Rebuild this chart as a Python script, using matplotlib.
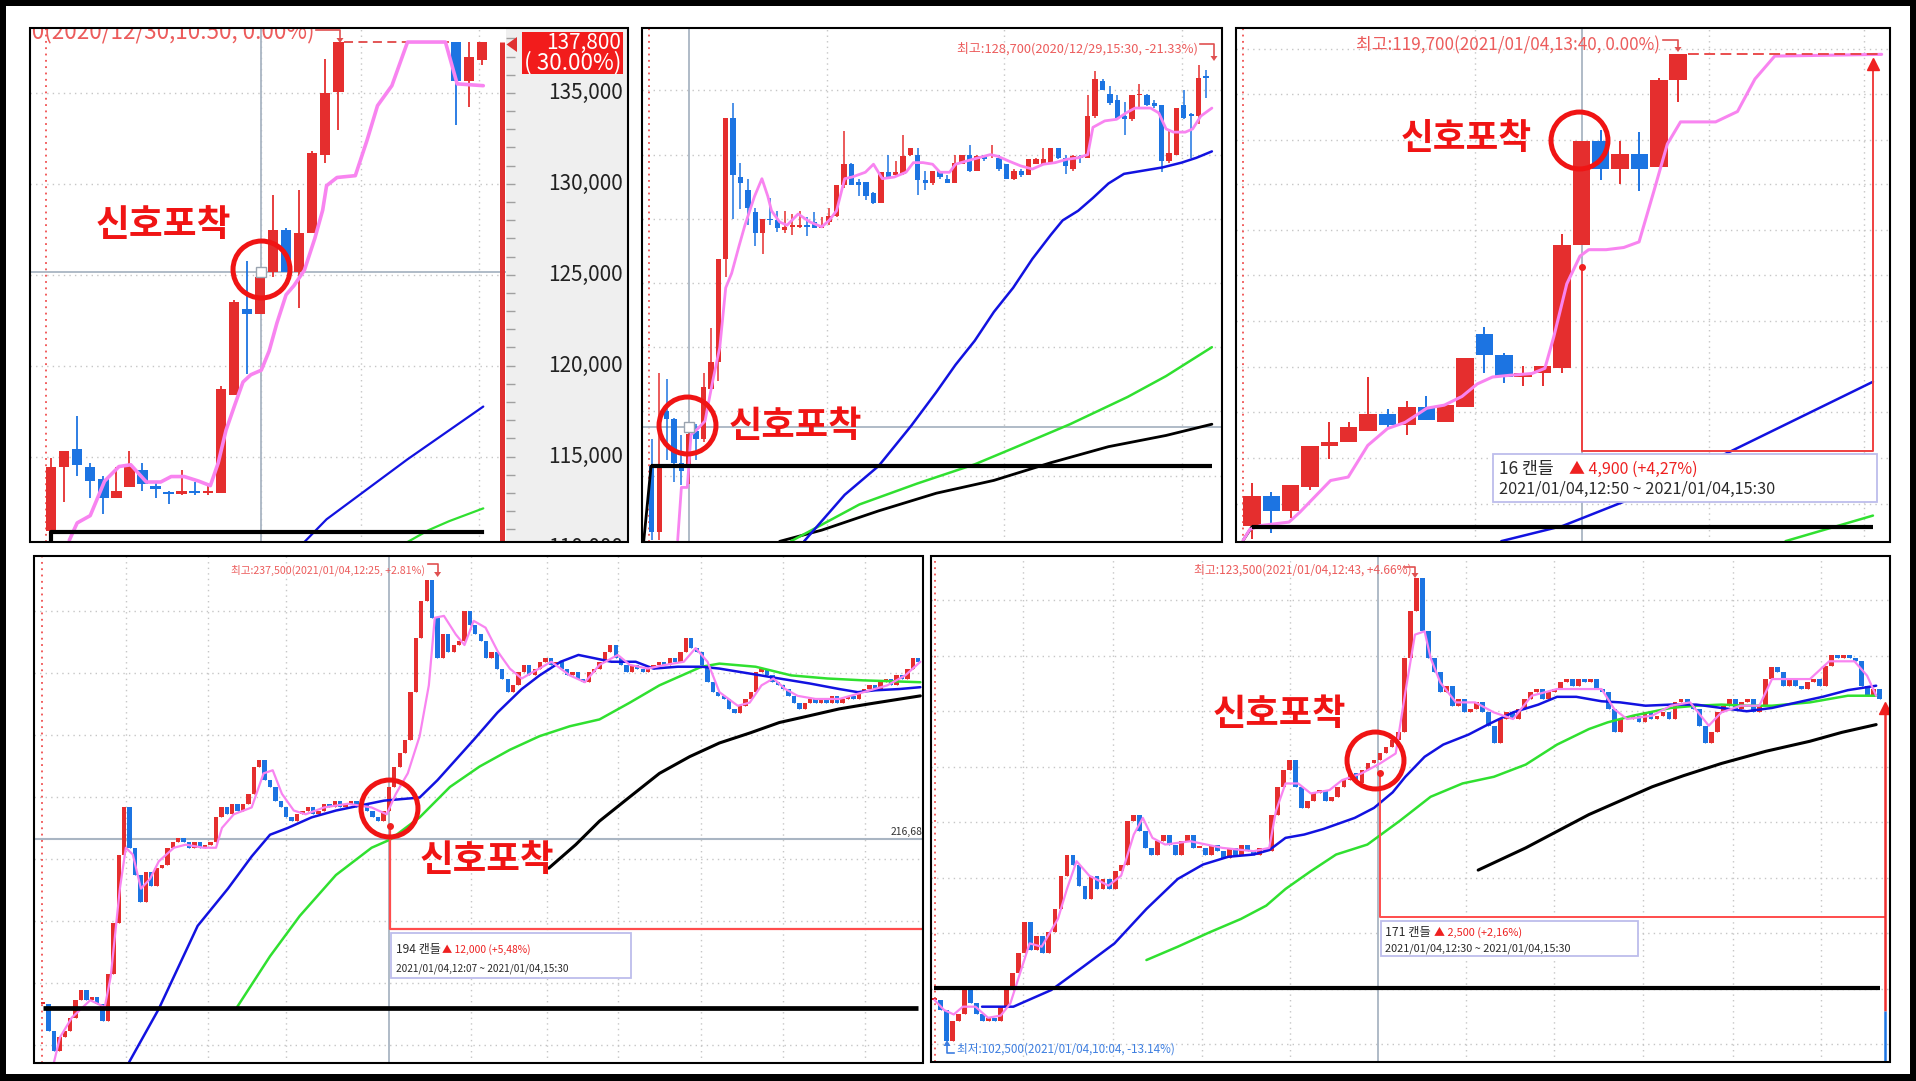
#!/usr/bin/env python3
import matplotlib
matplotlib.use("Agg")
import matplotlib.pyplot as plt
from matplotlib.lines import Line2D
from matplotlib.patches import Rectangle, Polygon

# ---------------- panel 1 (daily, price axis on the right) ----------------
p1_x = list(range(23)) + [31, 32, 33]
p1_open = [110900, 114450, 115400, 114450, 113750, 112700, 113300, 114250, 113400, 113050,
           112950, 113100, 113000, 113000, 118400, 123100, 122850, 125150, 127450, 125150,
           127300, 131600, 135050, 137800, 135650, 136800]
p1_high = [114900, 115300, 117250, 114650, 113950, 114450, 115300, 114650, 113600, 113100,
           114250, 113600, 113400, 118900, 123600, 125750, 125150, 129400, 127550, 129650,
           131800, 136850, 137800, 137800, 137800, 137800]
p1_low = [110000, 112500, 113950, 112700, 111850, 112700, 113300, 113100, 112700, 112400,
          112900, 112900, 112900, 113000, 118400, 119550, 122850, 124850, 125150, 123150,
          127300, 131150, 132950, 133250, 134250, 136550]
p1_close = [114400, 115300, 114550, 113650, 112700, 113100, 114450, 113500, 113200, 112950,
            113100, 113000, 113100, 118700, 123500, 122850, 124900, 127450, 125150, 127300,
            131700, 135000, 137800, 135650, 136950, 137800]
p1_pink_x = [1.4, 2.0, 3.0, 4.1, 5.2, 6.1, 7.3, 8.4, 9.2, 10.2, 11.3, 12.2, 12.8, 13.4, 14.1,
             14.7, 15.3, 16.1, 16.7, 17.3, 18.0, 18.6, 19.4, 20.2, 20.8, 21.1, 21.9, 23.3, 24.2,
             25.0, 26.1, 27.3, 30.2, 31.1, 33.1]
p1_pink_y = [110400, 111350, 111750, 113650, 114450, 114550, 113600, 113600, 113900, 113900,
             113650, 113400, 114650, 116450, 117900, 119100, 119500, 119750, 120800, 122350,
             123900, 124400, 125250, 127000, 128550, 129900, 130350, 130450, 132400, 134300,
             135400, 137800, 137800, 135500, 135400]
p1_blue_x = [19.4, 21.1, 24.2, 27.3, 30.5, 33.1]
p1_blue_y = [110300, 111550, 113200, 114850, 116450, 117750]
p1_green_x = [27.3, 28.9, 30.5, 33.1]
p1_green_y = [110300, 110950, 111450, 112150]
p1_base_x = [0, 0, 33]
p1_base_y = [110300, 110870, 110870]
p1_ticks = [110000, 115000, 120000, 125000, 130000, 135000]
p1_last = 137800
p1_last_pct = "( 30.00%)"
p1_title = "최고:137,800(2020/12/30,10:50, 0.00%)"

# ---------------- panel 2 ----------------
p2_open = [116300, 114250, 118000, 117750, 116400, 116250, 117400, 117150, 118700, 119550,
           122750, 127150, 125300, 124900, 124200, 123550, 124000, 123950, 123650, 123750,
           123750, 123800, 123900, 123700, 123900, 124100, 125050, 125700, 125150, 125150,
           124800, 124500, 125450, 125350, 125400, 126000, 126000, 125200, 125100, 125500,
           125250, 125100, 125700, 126000, 125500, 126000, 125950, 125900, 125700, 125250,
           125500, 125350, 125700, 125700, 125700, 126200, 125900, 125550, 125950, 125900,
           127200, 128300, 127900, 127700, 127200, 127100, 127850, 127850, 127600, 127550,
           125800, 126000, 127550, 127250, 127200, 128450]
p2_high = [117150, 119200, 119000, 117800, 117250, 117650, 117600, 119200, 120600, 122750,
           127150, 127600, 125750, 125250, 124350, 124000, 124650, 124250, 124250, 124150,
           124250, 124050, 124200, 124050, 124350, 125050, 126750, 125750, 125250, 125150,
           124850, 125450, 126000, 125800, 126600, 126200, 126200, 125500, 125500, 125500,
           125350, 126000, 126000, 126300, 126000, 126000, 126300, 126000, 125700, 125550,
           125550, 125850, 125900, 126200, 126200, 126200, 126000, 126000, 126000, 127850,
           128600, 128350, 128150, 127850, 127650, 127850, 128200, 127900, 127700, 127550,
           126800, 127450, 128000, 127300, 128800, 128650]
p2_low = [114000, 114000, 116500, 115800, 115700, 115750, 116500, 117050, 118700, 118950,
          122200, 124000, 124300, 123800, 123150, 122900, 123800, 123600, 123550, 123500,
          123700, 123450, 123700, 123700, 123800, 124050, 124950, 125050, 124700, 124600,
          124450, 124500, 125250, 125300, 125350, 125950, 124750, 124900, 125050, 125250,
          125100, 125100, 125700, 125450, 125500, 125800, 125900, 125500, 125250, 125200,
          125300, 125350, 125700, 125700, 125700, 125850, 125400, 125500, 125750, 125900,
          127150, 128000, 127550, 127100, 126600, 127050, 127450, 127500, 127450, 125450,
          125750, 126000, 127100, 125900, 126950, 127750]
p2_close = [114250, 116300, 117750, 116400, 116150, 117300, 117150, 118750, 119550, 122750,
            127150, 125350, 125100, 124350, 123550, 124000, 123950, 123700, 123750, 123800,
            123800, 123750, 123700, 123800, 124100, 125050, 125700, 125050, 125050, 124700,
            124500, 125450, 125300, 125450, 125950, 126200, 125200, 125100, 125500, 125300,
            125100, 125750, 126000, 125500, 125950, 125850, 126000, 125550, 125250, 125500,
            125350, 125850, 125850, 125850, 126200, 125900, 125650, 125950, 125900, 127200,
            128350, 128000, 127600, 127150, 127100, 127850, 127850, 127550, 127500, 125800,
            126050, 127450, 127150, 127200, 128400, 128400]
p2_pink_x = [3.5, 4.0, 4.8, 5.3, 6.1, 7.2, 8.2, 9.2, 10.0, 10.8, 11.8, 12.6, 13.9, 14.9, 15.7,
             16.2, 17.3, 18.3, 19.8, 21.4, 23.0, 24.0, 25.0, 26.1, 27.1, 28.9, 30.0, 31.2, 32.8,
             34.4, 35.4, 36.7, 38.0, 39.0, 40.3, 41.1, 42.6, 44.2, 45.8, 46.8, 48.3, 49.9, 51.5,
             53.0, 54.6, 56.1, 57.7, 59.0, 59.7, 61.3, 62.9, 64.2, 65.4, 67.5, 68.6, 69.6, 70.6,
             72.2, 73.2, 74.3, 75.8]
p2_pink_y = [113990, 115630, 115630, 117270, 117430, 117700, 118900, 120000, 121850, 122300,
             123150, 123800, 124700, 125250, 124700, 124250, 123900, 123800, 124150, 123900,
             123750, 123950, 124250, 125250, 125300, 125450, 125700, 125250, 125300, 125450,
             125750, 125750, 125700, 125450, 125450, 125700, 125800, 125900, 126000, 125950,
             125800, 125650, 125550, 125700, 125750, 125850, 125900, 126000, 126850, 127050,
             127100, 127300, 127450, 127450, 127300, 126800, 126700, 126700, 126800, 127200,
             127450]
p2_blue_x = [20.6, 26.1, 30.7, 35.1, 38.5, 41.1, 43.7, 46.3, 48.9, 51.5, 54.0, 55.6, 57.7,
             59.7, 61.8, 63.9, 66.5, 69.1, 71.7, 73.7, 75.8]
p2_blue_y = [113950, 115400, 116300, 117550, 118600, 119450, 120200, 121100, 121850, 122750,
             123500, 123950, 124250, 124650, 125100, 125400, 125500, 125600, 125750, 125900,
             126100]
p2_green_x = [18.8, 28.1, 35.9, 43.7, 48.9, 56.6, 64.4, 69.6, 75.8]
p2_green_y = [113950, 115100, 115750, 116350, 116850, 117600, 118450, 119100, 120000]
p2_black_x = [17.3, 23.0, 30.7, 38.5, 46.3, 54.0, 61.8, 69.6, 75.8]
p2_black_y = [113950, 114300, 114900, 115450, 115850, 116400, 116900, 117250, 117600]
p2_lead_x = [-1.1, -0.1]
p2_lead_y = [113950, 116300]
p2_base = 116300
p2_title = "최고:128,700(2020/12/29,15:30, -21.33%)"

# ---------------- panel 3 (10 minute candles) ----------------
p3_open = [108800, 109500, 109150, 109700, 110650, 110750, 111000, 111400, 111150, 111550,
           111200, 111550, 113250, 112750, 112250, 112350, 112450, 115300, 117700, 117050,
           117400, 117100, 119100]
p3_high = [109800, 109600, 109750, 110650, 111200, 111200, 112250, 111500, 111700, 111800,
           111600, 112700, 113400, 112800, 112500, 112500, 115550, 117700, 117950, 117700,
           117900, 119150, 119700]
p3_low = [108500, 108650, 109000, 109650, 110350, 110750, 111000, 111100, 110900, 111250,
          111200, 111550, 112350, 112100, 112050, 112050, 112350, 115300, 116800, 116700,
          116550, 117100, 118600]
p3_close = [109500, 109150, 109750, 110650, 110750, 111100, 111400, 111150, 111550, 111250,
            111600, 112700, 112750, 112250, 112350, 112500, 115300, 117700, 117050, 117400,
            117050, 119100, 119700]
p3_pink_x = [-0.45, -0.11, 0.45, 1.92, 2.48, 4.06, 4.97, 5.98, 7.0, 7.9, 9.03, 9.93, 10.84,
             11.63, 12.42, 13.32, 14.45, 15.12, 15.58, 16.25, 16.93, 17.38, 18.28, 19.19, 19.98,
             20.77, 21.44, 22.12, 23.93, 25.06, 25.96, 26.98, 32.5]
p3_pink_y = [108480, 108730, 108820, 108900, 109130, 109860, 109940, 110670, 111060, 111200,
             111530, 111600, 111800, 112090, 112250, 112290, 112330, 112450, 113180, 114400,
             115040, 115190, 115190, 115240, 115370, 116580, 117630, 118140, 118140, 118380,
             119130, 119660, 119700]
p3_blue_x = [12.87, 16.03, 19.19, 24.6, 32.05]
p3_blue_y = [108460, 108810, 109370, 110510, 112140]
p3_green_x = [27.54, 32.05]
p3_green_y = [108460, 109050]
p3_lead_x = [-0.45, 0.0]
p3_lead_y = [108480, 108790]
p3_base = 108790
p3_grid = [119820, 118785, 117730, 116700, 115650, 114600, 113545, 112490, 111440, 110385, 109315]
p3_title = "최고:119,700(2021/01/04,13:40, 0.00%)"
p3_count, p3_gain, p3_range = "16 캔들", "▲ 4,900 (+4,27%)", "2021/01/04,12:50 ~ 2021/01/04,15:30"

# ---------------- panel 4 (1 minute, closes) ----------------
p4_close = [203300, 201100, 199500, 200600, 201100, 202200, 203600, 204400, 203600, 203850,
            203300, 201950, 205750, 209850, 215350, 219150, 215900, 213700, 211500, 213950,
            212850, 214250, 214500, 215900, 216400, 216700, 216400, 215900, 216400, 215900,
            216150, 216400, 218350, 219150, 218600, 219450, 218900, 219450, 220250, 222450,
            223000, 221350, 220800, 219700, 219150, 218350, 218050, 218600, 218900, 219150,
            218600, 218900, 219450, 219150, 219700, 219150, 219450, 219700, 219150, 219450,
            218900, 218350, 218050, 218900, 220800, 222450, 223550, 224600, 228450, 232800,
            235800, 237500, 234450, 231200, 233100, 231700, 232250, 232550, 235000, 233900,
            233100, 232550, 231200, 231700, 230350, 229550, 228450, 229000, 230100, 230650,
            229800, 230350, 230900, 231200, 230650, 230900, 230350, 229800, 230100, 229550,
            229250, 230100, 230350, 230900, 231700, 232250, 231200, 230650, 230100, 230650,
            230350, 230100, 230350, 230650, 230900, 230650, 231200, 230900, 231700, 232800,
            232000, 231700, 230650, 229250, 228450, 228150, 227900, 227100, 226800, 227350,
            227900, 228450, 230100, 230350, 229800, 229250, 229000, 228700, 228150, 227600,
            227100, 227600, 227900, 227600, 227900, 227600, 228150, 227600, 227900, 228150,
            227900, 228450, 228700, 229000, 228700, 229250, 229550, 229000, 229800, 229550,
            230350, 231200, 230900]
p4_pink_x = [2.0, 3.1, 5.3, 8.7, 11.4, 12.5, 14.2, 15.3, 16.6, 18.1, 19.8, 21.4, 24.2, 26.4,
             29.7, 32.0, 33.1, 35.3, 38.6, 40.8, 42.5, 44.2, 46.4, 48.6, 52.0, 56.4, 60.8, 63.6,
             65.3, 67.5, 69.7, 71.4, 72.5, 74.2, 76.4, 78.0, 79.7, 81.9, 84.2, 86.4, 88.6, 90.8,
             94.1, 97.5, 100.3, 103.0, 106.4, 108.6, 111.9, 115.2, 118.6, 120.8, 123.0, 125.2,
             128.6, 130.8, 133.0, 135.2, 137.4, 139.7, 143.0, 147.4, 151.9, 156.3, 159.6, 162.4]
p4_pink_y = [198600, 200600, 202200, 203600, 203050, 205500, 212600, 215900, 215350, 212600,
             213400, 214800, 215900, 216150, 215900, 215900, 217500, 218600, 219150, 221900,
             222150, 220250, 218900, 218600, 219150, 219450, 219150, 218600, 220250, 221900,
             224900, 229000, 234450, 234600, 233100, 232250, 234200, 233650, 231700, 230350,
             229550, 230100, 230900, 229800, 229250, 230650, 231450, 230650, 230350, 230650,
             230900, 232000, 230900, 228450, 227350, 227600, 229000, 229550, 228700, 228150,
             227900, 227900, 228450, 229000, 229800, 230900]
p4_blue_x = [15.9, 21.4, 28.6, 34.2, 38.6, 42.0, 45.3, 49.7, 54.2, 58.6, 63.1, 69.7, 73.0,
             76.4, 79.7, 84.1, 88.6, 91.9, 95.8, 99.1, 101.9, 105.2, 109.7, 113.0, 117.5, 121.9,
             125.2, 130.8, 136.3, 141.9, 147.4, 150.8, 154.1, 158.5, 162.4]
p4_blue_y = [198600, 202900, 209600, 212600, 215200, 216950, 217500, 218350, 218900, 219300,
             219700, 219950, 221350, 223000, 224600, 226800, 228700, 229800, 230900, 231450,
             231200, 230900, 230900, 230350, 230500, 230500, 230350, 229950, 229550, 229150,
             228700, 228450, 228600, 228700, 228850]
p4_green_x = [35.9, 42.0, 47.5, 54.2, 60.8, 64.2, 69.7, 75.3, 80.8, 86.4, 91.9, 97.5, 103.0,
              108.6, 114.1, 121.9, 125.2, 131.9, 138.5, 145.2, 151.9, 162.4]
p4_green_y = [203050, 207150, 210400, 213700, 215900, 216550, 218350, 220800, 222450, 223800,
              224900, 225700, 226250, 227600, 229000, 230500, 230750, 230500, 229800, 229550,
              229400, 229250]
p4_black_x = [93.6, 98.6, 103.0, 108.6, 114.1, 119.7, 125.2, 130.8, 136.3, 141.9, 147.4, 152.9, 162.4]
p4_black_y = [214250, 216150, 218050, 220000, 221900, 223250, 224350, 225150, 226000, 226550,
              227100, 227500, 228150]
p4_base = 202950
p4_cross_price = "216,680"
p4_title = "최고:237,500(2021/01/04,12:25, +2.81%)"
p4_count, p4_gain, p4_range = "194 캔들", "▲ 12,000 (+5,48%)", "2021/01/04,12:07 ~ 2021/01/04,15:30"

# ---------------- panel 5 (1 minute, closes) ----------------
p5_close = [104500, 104050, 102650, 103550, 103850, 104950, 104350, 103850, 103550, 103700,
            103550, 104200, 104950, 105700, 106600, 108000, 106750, 107400, 106600, 107550,
            108600, 110100, 111050, 110600, 109650, 109050, 110100, 109500, 109950, 109500,
            110300, 110600, 112550, 112850, 112100, 111350, 111050, 111650, 111950, 111500,
            111050, 111650, 111950, 111350, 111350, 111050, 111500, 111200, 110900, 111350,
            111050, 111500, 111200, 111050, 111350, 111200, 112850, 114100, 114850, 115300,
            114100, 113150, 113450, 113800, 113950, 113450, 113650, 114100, 114400, 114700,
            114250, 114850, 115150, 115300, 115600, 115900, 116200, 116550, 119900, 122000,
            123500, 121100, 119900, 119250, 118350, 118650, 117750, 118050, 117450, 117600,
            117900, 117450, 116850, 116050, 117150, 117450, 117150, 117600, 118050, 118350,
            118500, 118050, 118350, 118500, 118800, 118950, 118650, 118950, 118800, 118950,
            118500, 118350, 117600, 116550, 117150, 117150, 117300, 117000, 117450, 117150,
            117300, 117450, 117150, 117900, 118050, 117750, 117600, 116850, 116050, 116550,
            117450, 117750, 118050, 117600, 117900, 118050, 117450, 117750, 118950, 119500,
            119250, 118650, 118950, 118650, 118500, 118800, 118950, 118650, 119550, 120050,
            119900, 120050, 119900, 119750, 118650, 118200, 118500, 118050]
p5_pink_x = [0.0, 1.6, 3.2, 4.7, 6.8, 8.9, 11.0, 12.6, 14.2, 15.8, 17.8, 20.5, 22.0, 23.6,
             25.7, 28.9, 31.0, 33.1, 34.6, 36.2, 38.3, 42.5, 47.8, 53.0, 55.6, 56.7, 58.3, 60.4,
             62.5, 65.6, 67.7, 70.9, 74.0, 76.6, 78.2, 79.8, 81.4, 82.4, 84.0, 86.6, 89.8, 92.9,
             96.1, 99.2, 103.4, 107.6, 110.8, 112.9, 115.0, 119.2, 122.3, 125.5, 128.6, 130.7,
             133.9, 137.0, 139.1, 142.3, 145.4, 148.6, 152.8, 154.9, 156.4]
p5_pink_y = [104500, 104050, 103850, 104200, 104200, 103700, 103800, 104350, 105700, 107050,
             106900, 108150, 109500, 110750, 110100, 109650, 110100, 111950, 112700, 111800,
             111500, 111650, 111350, 111200, 111350, 113000, 114250, 114250, 113800, 113950,
             114400, 114700, 115150, 115600, 118350, 120950, 121100, 119900, 118800, 117900,
             117900, 117450, 117150, 118200, 118500, 118500, 118500, 117600, 117150, 117300,
             117750, 117900, 116850, 117450, 117750, 117750, 118950, 118950, 118950, 119750,
             119750, 119100, 118200]
p5_blue_x = [7.9, 13.1, 19.4, 24.7, 29.9, 35.2, 40.4, 44.6, 48.8, 53.0, 55.6, 58.3, 61.4, 64.6,
             69.8, 73.0, 76.1, 78.2, 81.4, 84.5, 88.7, 91.9, 96.1, 100.3, 103.4, 106.6, 110.8,
             113.9, 118.1, 122.3, 126.5, 130.7, 134.9, 139.1, 143.3, 147.5, 151.7, 156.4]
p5_blue_y = [104200, 104200, 104950, 106000, 107050, 108600, 109950, 110600, 110950, 111050,
             111250, 111800, 111950, 112200, 112700, 113150, 113850, 114550, 115450, 116000,
             116450, 116900, 117450, 117800, 118150, 118150, 117950, 117900, 117750, 117800,
             117800, 117650, 117500, 117650, 117900, 118150, 118450, 118650]
p5_green_x = [35.2, 40.4, 45.7, 50.9, 55.1, 58.3, 62.5, 66.7, 71.9, 77.2, 82.4, 87.7, 92.9,
              98.2, 103.4, 108.7, 111.8, 116.0, 122.3, 126.5, 130.7, 134.9, 139.1, 145.4, 151.7,
              156.4]
p5_green_y = [106300, 106900, 107550, 108150, 108750, 109500, 110300, 111050, 111500, 112550,
              113650, 114250, 114550, 115100, 116000, 116700, 117000, 117300, 117650, 117750,
              117800, 117750, 117750, 117900, 118200, 118200]
p5_black_x = [90.3, 98.2, 108.7, 119.2, 124.4, 130.7, 138.1, 145.4, 150.7, 156.4]
p5_black_y = [110350, 111350, 112850, 114100, 114600, 115150, 115700, 116150, 116550, 116900]
p5_base = 105050
p5_title = "최고:123,500(2021/01/04,12:43, +4.66%)"
p5_low_title = "최저:102,500(2021/01/04,10:04, -13.14%)"
p5_count, p5_gain, p5_range = "171 캔들", "▲ 2,500 (+2,16%)", "2021/01/04,12:30 ~ 2021/01/04,15:30"

SIGNAL = "신호포착"

# ---------------- style ----------------
W, H = 1916, 1081
RED = "#e52e2e"
BLUE = "#1c74e2"
PINK = "#f884f0"
MA_BLUE = "#1212e0"
MA_GREEN = "#30e030"
GRID = "#c6c6c6"
CROSS = "#a9b5c3"
TITLE_RED = "#ec5c5c"
SIG_RED = "#f01414"
BOX_EDGE = "#bdbdec"
DARK = "#2a2a2a"
DOT = (0, (1, 3))

plt.rcParams["font.family"] = ["Noto Sans CJK KR", "Noto Sans CJK JP", "DejaVu Sans"]

fig = plt.figure(figsize=(W / 100, H / 100), dpi=100)
fig.patch.set_facecolor("white")
renderer = fig.canvas.get_renderer()


def fx(x):
    return x / W


def fy(y):
    return 1 - y / H


def rect(x0, y0, x1, y1):
    return [fx(x0), fy(y1), (x1 - x0) / W, (y1 - y0) / H]


def panel(x0, y0, x1, y1, xlim, ylim):
    ax = fig.add_axes(rect(x0, y0, x1, y1))
    ax.set_xlim(*xlim)
    ax.set_ylim(*ylim)
    ax.set_xticks([])
    ax.set_yticks([])
    for s in ax.spines.values():
        s.set_visible(False)
    return ax


def border(x0, y0, x1, y1, lw=1.5, ec="black", fc="none", z=1):
    fig.add_artist(Rectangle((fx(x0), fy(y1)), (x1 - x0) / W, (y1 - y0) / H,
                             transform=fig.transFigure, fc=fc, ec=ec, lw=lw, zorder=z))


def grid(ax, hs, vs, red_x):
    for y in hs:
        ax.axhline(y, color=GRID, lw=1, ls=DOT, zorder=1)
    for x in vs:
        ax.axvline(x, color=GRID, lw=1, ls=DOT, zorder=1)
    ax.axvline(red_x, color="#f05050", lw=1.3, ls=(0, (1, 2.5)), zorder=1)


def candles(ax, xs, o, h, l, c, width, wick=1.0):
    y0, y1 = ax.get_ylim()
    px = (y1 - y0) / (ax.get_position().height * H)
    cols = [RED if cc >= oo else BLUE for oo, cc in zip(o, c)]
    bottoms = [min(oo, cc) for oo, cc in zip(o, c)]
    heights = [max(abs(cc - oo), 1.6 * px) for oo, cc in zip(o, c)]
    ax.vlines(xs, l, h, colors=cols, lw=wick, zorder=3)
    ax.bar(xs, heights, width, bottoms, color=cols, lw=0, zorder=4)


def from_closes(closes):
    o = [closes[0]] + closes[:-1]
    hi = [max(a, b) for a, b in zip(o, closes)]
    lo = [min(a, b) for a, b in zip(o, closes)]
    return o, hi, lo


def size_for(s, width, weight="normal"):
    t = fig.text(0, 0, s, fontsize=10, fontweight=weight)
    w = t.get_window_extent(renderer).width
    t.remove()
    return 10 * width / w


def label(x, y, s, width, color, ha="left", va="baseline", weight="normal", ax=None, fit=None):
    fs = size_for(fit or s, width, weight)
    kw = dict(fontsize=fs, color=color, ha=ha, va=va, fontweight=weight)
    if ax is None:
        return fig.text(fx(x), fy(y), s, zorder=6, **kw)
    return ax.text(fx(x), fy(y), s, transform=fig.transFigure, clip_on=True, zorder=8, **kw)


def fline(xs, ys, color, lw=1.2):
    fig.add_artist(Line2D([fx(x) for x in xs], [fy(y) for y in ys], color=color, lw=lw,
                          transform=fig.transFigure, zorder=5))


def ftri(pts, color):
    fig.add_artist(Polygon([(fx(x), fy(y)) for x, y in pts], closed=True, fc=color, ec="none",
                           transform=fig.transFigure, zorder=5))


def bracket(x0, x1, y0, y1, color):
    fline([x0, x1, x1], [y0, y0, y1 - 4], color)
    ftri([(x1 - 3.5, y1 - 5), (x1 + 3.5, y1 - 5), (x1, y1)], color)


def ma(ax, xs, ys, color, lw):
    ax.plot(xs, ys, color=color, lw=lw, zorder=5, solid_joinstyle="round", solid_capstyle="round")


def ring(ax, x, y):
    ax.plot([x], [y], marker="o", ms=41, mfc="none", mec=SIG_RED, mew=3.6, clip_on=False, zorder=9)


def summary(box, x, y1, y2, count, gain, rng, w_count, x_gain, w_gain, w_rng):
    border(*box, lw=1.3, ec=BOX_EDGE, fc="white", z=2)
    label(x, y1, count, w_count, DARK)
    label(x_gain, y1, gain, w_gain, "#ee2020")
    label(x, y2, rng, w_rng, DARK)


# ---------------- panel 1 ----------------
ax1 = panel(29.5, 27.5, 506, 542, (-1.65, 34.84), (110300, 138600))
grid(ax1, [115000, 120000, 125000, 130000, 135000], [16.1, 23.75, 32.8], -0.4)
ax1.axvline(16.05, color=CROSS, lw=1.3, zorder=2)
ax1.axhline(125160, color=CROSS, lw=1.3, zorder=2)
ax1.hlines(p1_last, 22.4, 30.5, color="#e04848", lw=1.3, ls=(0, (5, 3)), zorder=2)
candles(ax1, p1_x, p1_open, p1_high, p1_low, p1_close, 0.8, wick=1.3)
ma(ax1, p1_pink_x, p1_pink_y, PINK, 2.6)
ma(ax1, p1_blue_x, p1_blue_y, MA_BLUE, 1.6)
ma(ax1, p1_green_x, p1_green_y, MA_GREEN, 1.6)
ax1.plot(p1_base_x, p1_base_y, color="black", lw=3, zorder=6)
ax1.vlines(34.5, 110300, p1_last, color="#e03030", lw=3.6, zorder=6)
ax1.plot([16.05], [125160], marker="s", ms=7, mfc="white", mec="#9aa4b0", mew=1, zorder=8)
ring(ax1, 16.1, 125290)
label(314, 38, p1_title, 283, TITLE_RED, ha="right", ax=ax1, fit="0(2020/12/30,10:50, 0.00%)")
bracket(316, 340, 30, 43, "#e05050")
label(163.5, 225.5, SIGNAL, 135, SIG_RED, ha="center", va="center", weight="bold")

axp = panel(506, 27.5, 628, 542, (0, 1), (110300, 138600))
axp.set_facecolor("#efefef")
axp.hlines(range(111000, 139000, 1000), 0, 0.07, color="#a0a0a0", lw=1)
fs_tick = size_for("135,000", 75)
for p in p1_ticks:
    axp.text(0.96, p, f"{p:,}", ha="right", va="center", fontsize=fs_tick, color="#222222", clip_on=True)
border(522, 32, 623, 74, lw=0, ec="none", fc="#f21c1c", z=2)
label(621, 42.5, f"{p1_last:,}", 75, "white", ha="right", va="center")
label(621, 63, p1_last_pct, 97, "white", ha="right", va="center")
ftri([(506.5, 44.5), (517, 37), (517, 52)], "#e03030")
border(29.5, 27.5, 628, 542)

# ---------------- panel 2 ----------------
p2_x = list(range(len(p2_close)))
ax2 = panel(642, 27.5, 1221.5, 542, (-1.33, 77.1), (113930, 129960))
grid(ax2, range(116000, 129000, 2000), [23.7, 47.7, 71.7], -0.36)
ax2.axvline(4.97, color=CROSS, lw=1.3, zorder=2)
ax2.axhline(117507, color=CROSS, lw=1.3, zorder=2)
ma(ax2, p2_black_x, p2_black_y, "black", 2.0)
ma(ax2, p2_lead_x, p2_lead_y, "black", 2.0)
ma(ax2, p2_green_x, p2_green_y, MA_GREEN, 1.8)
ma(ax2, p2_blue_x, p2_blue_y, MA_BLUE, 1.8)
candles(ax2, p2_x, p2_open, p2_high, p2_low, p2_close, 0.72, wick=1.1)
ma(ax2, p2_pink_x, p2_pink_y, PINK, 2.0)
ax2.hlines(p2_base, -0.1, 75.8, color="black", lw=3, zorder=6)
ax2.plot([4.97], [117507], marker="s", ms=7, mfc="white", mec="#9aa4b0", mew=1, zorder=8)
ring(ax2, 4.71, 117562)
label(957, 53, p2_title, 241, TITLE_RED)
bracket(1200, 1214, 44, 61, "#e05050")
label(795, 427, SIGNAL, 133, SIG_RED, ha="center", va="center", weight="bold")
border(642, 27.5, 1221.5, 542)

# ---------------- panel 3 ----------------
p3_x = list(range(len(p3_close)))
ax3 = panel(1236, 27.5, 1890, 542, (-0.82, 32.93), (108440, 120320))
grid(ax3, p3_grid, [11.5, 23.6, 31.6], -0.45)
ax3.axvline(17.04, color=CROSS, lw=1.3, zorder=2)
ma(ax3, p3_green_x, p3_green_y, MA_GREEN, 1.8)
ma(ax3, p3_blue_x, p3_blue_y, MA_BLUE, 1.8)
ma(ax3, p3_lead_x, p3_lead_y, "black", 2.0)
candles(ax3, p3_x, p3_open, p3_high, p3_low, p3_close, 0.9, wick=1.4)
ma(ax3, p3_pink_x, p3_pink_y, PINK, 2.2)
ax3.hlines(p3_base, 0, 32.05, color="black", lw=3, zorder=6)
ax3.hlines(p3_high[-1], 22.5, 32.5, color="#e84040", lw=1.3, ls=(0, (6, 3)), zorder=6)
ax3.plot([17.04, 17.04, 32.05, 32.05], [114800, 110547, 110547, 119450], color="#f04040", lw=1.4, zorder=6)
ax3.plot([32.05], [119480], marker="^", ms=9, color="#f02020", zorder=7)
ax3.plot([17.04], [114800], marker="o", ms=4, color="#f02020", zorder=7)
ring(ax3, 16.9, 117716)
label(1356, 50, p3_title, 305, TITLE_RED)
bracket(1663, 1678, 39.5, 52, "#e05050")
label(1466, 139, SIGNAL, 131, SIG_RED, ha="center", va="center", weight="bold")
summary((1492.5, 454, 1877, 502), 1499, 474, 494, p3_count, p3_gain, p3_range, 54.7, 1569, 128, 278)
border(1236, 27.5, 1890, 542)

# ---------------- panel 4 ----------------
p4_x = list(range(len(p4_close)))
p4_open, p4_high, p4_low = from_closes(p4_close)
ax4 = panel(34, 556, 922.5, 1062.5, (-1.7, 162.8), (198580, 239430))
grid(ax4, range(200000, 240000, 5000),
     [15.3, 30.6, 45.0, 79.3, 93.2, 106.4, 121.7, 136.9, 152.2], -0.2)
ax4.axvline(64.05, color=CROSS, lw=1.3, zorder=2)
ax4.axhline(216640, color=CROSS, lw=1.5, zorder=2)
ma(ax4, p4_black_x, p4_black_y, "black", 2.2)
ma(ax4, p4_green_x, p4_green_y, MA_GREEN, 1.8)
ma(ax4, p4_blue_x, p4_blue_y, MA_BLUE, 1.8)
ma(ax4, p4_pink_x, p4_pink_y, PINK, 1.6)
candles(ax4, p4_x, p4_open, p4_high, p4_low, p4_close, 0.8, wick=0.8)
ax4.hlines(p4_base, 0, 162, color="black", lw=3.4, zorder=6)
ax4.plot([64.2, 64.2, 170], [217650, 209320, 209320], color="#ff4c4c", lw=1.6, zorder=6)
ax4.plot([64.2], [217650], marker="o", ms=4, color="#f02020", zorder=7)
ring(ax4, 64.05, 219100)
label(890.3, 835, p4_cross_price, 31.7, "#333333", ax=ax4, fit="216,68")
label(231, 573, p4_title, 195, TITLE_RED)
bracket(428, 437.6, 564, 577, "#e05050")
label(487, 861, SIGNAL, 134.5, SIG_RED, ha="center", va="center", weight="bold")
summary((391, 932.7, 631, 978.4), 395.7, 953, 972, p4_count, p4_gain, p4_range, 45, 442.4, 88, 172)
border(34, 556, 922.5, 1062.5)

# ---------------- panel 5 ----------------
p5_x = list(range(len(p5_close)))
p5_open, p5_high, p5_low = from_closes(p5_close)
ax5 = panel(931, 556, 1890, 1062, (-0.58, 158.7), (101710, 124490))
grid(ax5, range(102500, 125000, 2500),
     [14.7, 29.7, 44.4, 59.1, 88.2, 102.9, 117.6, 132.6, 147.3], 0.1)
ax5.axvline(73.6, color=CROSS, lw=1.3, zorder=2)
ma(ax5, p5_black_x, p5_black_y, "black", 2.2)
ma(ax5, p5_green_x, p5_green_y, MA_GREEN, 1.8)
ma(ax5, p5_blue_x, p5_blue_y, MA_BLUE, 1.8)
ma(ax5, p5_pink_x, p5_pink_y, PINK, 1.6)
candles(ax5, p5_x, p5_open, p5_high, p5_low, p5_close, 0.8, wick=0.8)
ax5.hlines(p5_base, 0, 157, color="black", lw=3, zorder=6)
ax5.plot([74.0, 74.0, 157.9], [114700, 108217, 108217], color="#ff4c4c", lw=1.4, zorder=6)
ax5.vlines(157.9, 104024, 117600, color="#f03030", lw=1.8, zorder=6)
ax5.vlines(157.9, 101710, 104024, color=BLUE, lw=1.8, zorder=6)
ax5.plot([157.9], [117650], marker="^", ms=8, color="#f02020", zorder=7)
ax5.plot([74.0], [114700], marker="o", ms=4, color="#f02020", zorder=7)
ring(ax5, 73.1, 115305)
label(1193.6, 574, p5_title, 218, TITLE_RED)
bracket(1404, 1415, 567, 578, "#e05050")
label(956.6, 1053, p5_low_title, 218, "#3d7ee0")
fline([947, 947, 954], [1043, 1053, 1053], "#3d7ee0")
ftri([(943.5, 1046), (950.5, 1046), (947, 1040)], "#3d7ee0")
label(1279, 714, SIGNAL, 133, SIG_RED, ha="center", va="center", weight="bold")
summary((1381.4, 920.8, 1638, 956.4), 1385.2, 936, 951.5, p5_count, p5_gain, p5_range,
        45.5, 1433.9, 88.4, 186)
border(931, 556, 1890, 1062)

# ---------------- outer black frame ----------------
border(0, 0, W, 5.5, lw=0, ec="none", fc="black", z=7)
border(0, 0, 6, H, lw=0, ec="none", fc="black", z=7)
border(0, 1074, W, H, lw=0, ec="none", fc="black", z=7)
border(1910, 0, W, H, lw=0, ec="none", fc="black", z=7)

fig.savefig("out.png", dpi=100)
